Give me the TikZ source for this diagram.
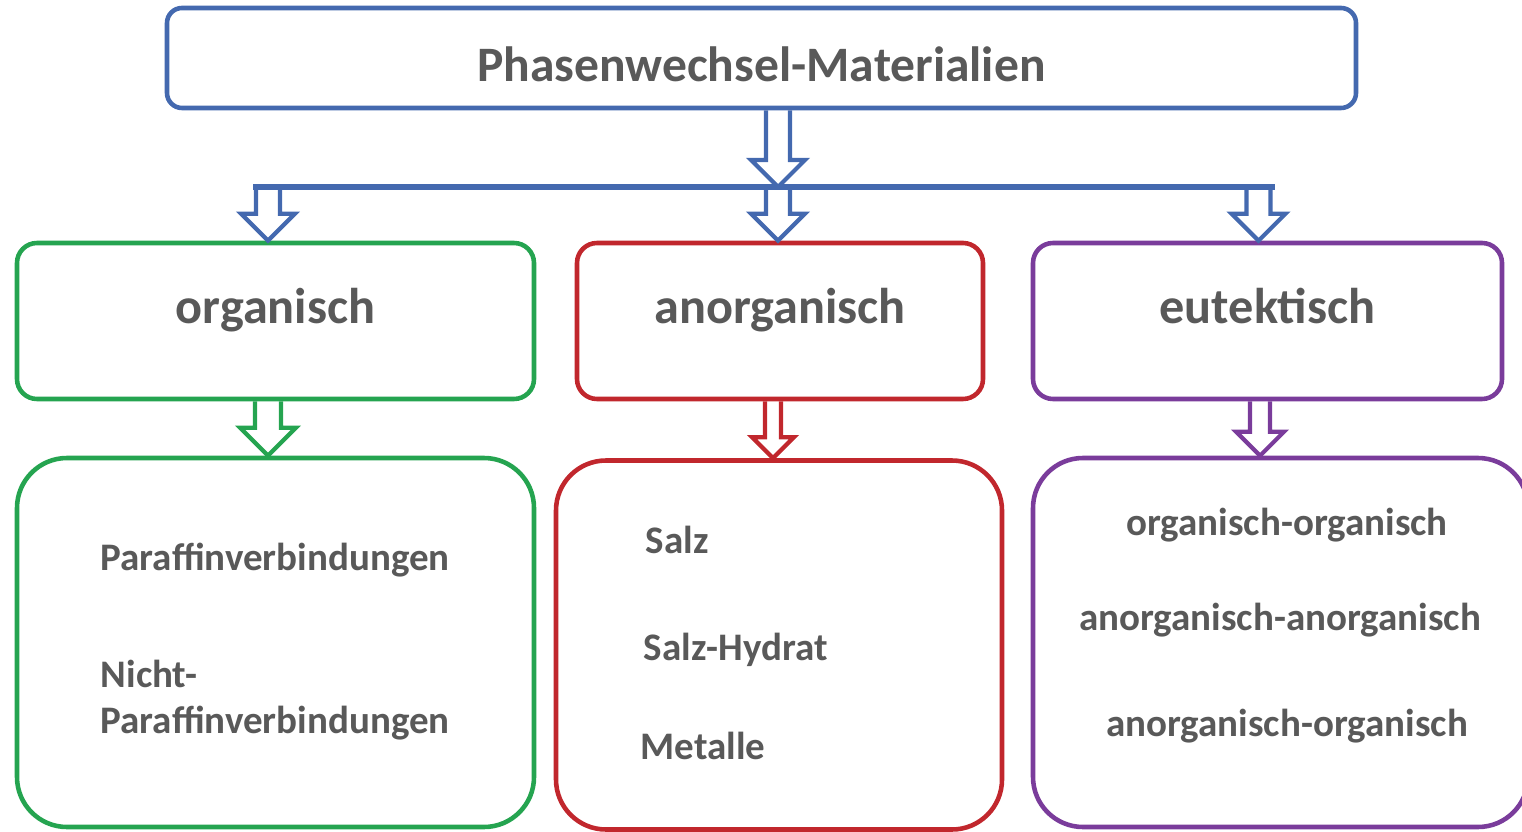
\documentclass[tikz,border=0pt]{standalone}
\usepackage{fontspec}
\setmainfont{Carlito}
\usetikzlibrary{positioning, calc}
\definecolor{pcmBlue}{RGB}{68,105,175}
\definecolor{pcmGreen}{RGB}{37,164,80}
\definecolor{pcmRed}{RGB}{193,39,45}
\definecolor{pcmPurple}{RGB}{122,60,155}
\definecolor{pcmText}{RGB}{89,89,89}

% hollow block arrow: style, from, to, half shaft, half head
\newcommand{\flowarrow}[5]{%
  \draw[#1] let \p1=(#2), \p2=(#3) in
    (\x2-#4cm,\y1) -- (\x2-#4cm,\y2+#5cm) -- (\x2-#5cm,\y2+#5cm) -- (\x2,\y2)
    -- (\x2+#5cm,\y2+#5cm) -- (\x2+#4cm,\y2+#5cm) -- (\x2+#4cm,\y1);}

\begin{document}
\begin{tikzpicture}[
    box/.style={rectangle, draw, line width=1.3pt, fill=white, text=pcmText, font=\bfseries},
    head/.style={box, draw=pcmBlue, rounded corners=0.15cm, minimum width=11.89cm, minimum height=1cm, text height=0.48cm, font=\bfseries\fontsize{14.1}{17}\selectfont},
    group/.style={box, rounded corners=0.2cm, minimum height=1.56cm, text height=0.35cm, text depth=0.3cm, font=\bfseries\fontsize{14.3}{17}\selectfont},
    members/.style={box, rounded corners=0.5cm, minimum height=3.69cm},
    item/.style={text=pcmText, font=\bfseries\fontsize{11.1}{13}\selectfont, inner sep=0pt},
    arrow/.style={line width=1.2pt, line join=miter}
]
\useasboundingbox (0,0) rectangle (15.22,8.31);

\node[head] (pcm) at (7.615,7.73) {Phasenwechsel-Materialien};

\node[group, draw=pcmGreen, minimum width=5.17cm] (org) at (2.755,5.10) {organisch};
\node[group, draw=pcmRed, minimum width=4.06cm] (anorg) at (7.80,5.10) {anorganisch};
\node[group, draw=pcmPurple, minimum width=4.69cm] (eut) at (12.675,5.10) {eutektisch};

\node[members, draw=pcmGreen, minimum width=5.17cm] (orglist) at (2.755,1.885) {};
\node[members, draw=pcmRed, minimum width=4.46cm] (anorglist) at (7.79,1.86) {};
\node[members, draw=pcmPurple, minimum width=4.95cm] (eutlist) at (12.805,1.885) {};

\node[item, anchor=west] (paraffin) at (1.00,2.71) {Paraffinverbindungen};
\node[item, anchor=west, align=left] (nonparaffin) at (1.00,1.31) {Nicht-\\Paraffinverbindungen};

\node[item, anchor=west] (salt) at (6.45,2.91) {Salz};
\node[item, anchor=west] (hydrate) at (6.43,1.81) {Salz-Hydrat};
\node[item, anchor=west] (metal) at (6.40,0.85) {Metalle};

\node[item] (orgorg) at (12.87,3.06) {organisch-organisch};
\node[item] (inorginorg) at (12.80,2.11) {anorganisch-anorganisch};
\node[item] (inorgorg) at (12.87,1.05) {anorganisch-organisch};

% distribution bar
\coordinate (hub) at (7.78,6.44);
\coordinate (barL) at (2.53,6.44);
\coordinate (barR) at (12.75,6.44);
\draw[pcmBlue, line width=1.6pt] (barL) -- (barR);

\flowarrow{arrow, pcmBlue}{pcm.south}{hub}{0.12}{0.27}
\flowarrow{arrow, pcmBlue}{hub}{[xshift=-0.075cm]org.north}{0.12}{0.27}
\flowarrow{arrow, pcmBlue}{hub}{[xshift=-0.02cm]anorg.north}{0.12}{0.27}
\flowarrow{arrow, pcmBlue}{hub}{[xshift=-0.09cm]eut.north}{0.12}{0.27}

\flowarrow{arrow, pcmGreen}{org.south}{[xshift=-0.075cm]orglist.north}{0.13}{0.28}
\flowarrow{arrow, pcmRed}{anorg.south}{[xshift=-0.06cm]anorglist.north}{0.08}{0.21}
\flowarrow{arrow, pcmPurple}{eut.south}{[xshift=-0.205cm]eutlist.north}{0.10}{0.24}

\end{tikzpicture}
\end{document}
